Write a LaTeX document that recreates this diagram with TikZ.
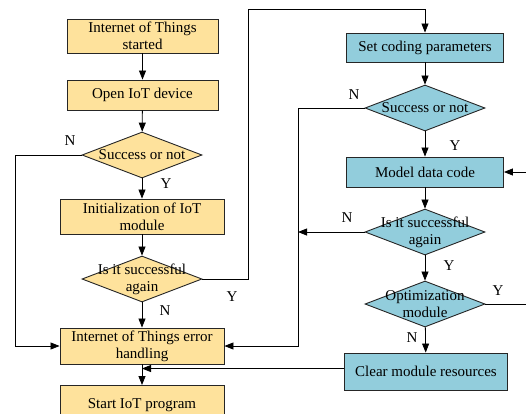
\documentclass[tikz,border=0pt]{standalone}
\usepackage{fontspec}
\setmainfont{Liberation Serif}
\usetikzlibrary{arrows.meta,shapes.geometric,calc}
\definecolor{ylw}{HTML}{FEE29C}
\definecolor{teal1}{HTML}{92CDDC}
\definecolor{edge}{HTML}{262626}
\begin{document}
\begin{tikzpicture}[x=1pt,y=-1pt,
  every node/.style={font=\fontsize{15}{17}\selectfont},
  ybox/.style={draw=edge,line width=0.9pt,fill=ylw,rectangle,inner sep=0pt,align=center},
  tbox/.style={draw=edge,line width=0.9pt,fill=teal1,rectangle,inner sep=0pt,align=center},
  ydia/.style={draw=edge,line width=0.9pt,fill=ylw,diamond,inner sep=0pt,minimum width=120pt,minimum height=46pt},
  tdia/.style={draw=edge,line width=0.9pt,fill=teal1,diamond,inner sep=0pt,minimum width=120pt,minimum height=46pt},
  dtxt/.style={align=center,inner sep=0pt},
  conn/.style={line width=0.8pt,draw=black},
  arr/.style={conn,-{Triangle[length=9pt,width=7pt]}},
  lbl/.style={inner sep=0pt}]
\clip (0,0) rectangle (526,413);
\fill[white] (0,0) rectangle (526,413);
% left column
\node[ybox,minimum width=151pt,minimum height=34pt] (b1) at (142.5,36) {Internet of Things\\started};
\node[ybox,minimum width=151pt,minimum height=30pt] (b2) at (142.5,95) {Open IoT device};
\node[ydia] (d1) at (142,155) {};
\node[dtxt] at (d1) {Success or not};
\node[ybox,minimum width=164pt,minimum height=35pt] (b3) at (142,216.5) {Initialization of IoT\\module};
\node[ydia] (d2) at (142,279) {};
\node[dtxt] at (d2) {Is it successful\\again};
\node[ybox,minimum width=164pt,minimum height=36pt] (b4) at (142,346) {Internet of Things error\\handling};
\node[ybox,minimum width=164pt,minimum height=40pt,anchor=north] (b5) at (142,385) {Start IoT program};
% right column
\node[tbox,minimum width=157pt,minimum height=29pt] (s1) at (425,47.5) {Set coding parameters};
\node[tdia] (d3) at (425,108) {};
\node[dtxt] at (d3) {Success or not};
\node[tbox,minimum width=157pt,minimum height=30pt] (m1) at (425,172) {Model data code};
\node[tdia] (d4) at (425,232) {};
\node[dtxt] at (d4) {Is it successful\\again};
\node[tdia] (d5) at (425,304) {};
\node[dtxt] at (d5) {Optimization\\module};
\node[tbox,minimum width=163pt,minimum height=37pt] (c1) at (426,371.5) {Clear module resources};
% helper coordinates
\coordinate (l1) at (15,155);
\coordinate (r1) at (248,279);
\coordinate (r2) at (248,9);
\coordinate (r3) at (425,9);
\coordinate (v1) at (298,108);
\coordinate (v2) at (298,346);
\coordinate (v3) at (298,232);
\coordinate (e1) at (526,304);
\coordinate (e2) at (526,172);
\coordinate (j1) at (142,368.5);
% connectors
\draw[arr] (b1) -- (b2);
\draw[arr] (b2) -- (d1);
\draw[arr] (d1) -- (b3);
\draw[arr] (d1.west) -- (l1) |- (b4.west);
\draw[arr] (b3) -- (d2);
\draw[arr] (d2) -- (b4);
\draw[arr] (d2.east) -- (r1) -- (r2) -- (r3) -- (s1.north);
\draw[arr] (s1) -- (d3);
\draw[arr] (d3) -- (m1);
\draw[arr] (d3.west) -- (v1) -- (v2) -- (b4.east);
\draw[arr] (m1) -- (d4);
\draw[arr] (d4.west) -- (v3);
\draw[arr] (d4) -- (d5);
\draw[conn] (d5.east) -- (e1);
\draw[arr] (e2) -- (m1.east);
\draw[arr] (d5) -- (c1);
\draw[arr] (c1.west |- j1) -- (j1);
\draw[arr] (b4) -- (b5);
% labels
\node[lbl] at (70,141) {N};
\node[lbl] at (166,184) {Y};
\node[lbl] at (165,311) {N};
\node[lbl] at (232,297) {Y};
\node[lbl] at (354,95) {N};
\node[lbl] at (455,146) {Y};
\node[lbl] at (347,218) {N};
\node[lbl] at (449,266) {Y};
\node[lbl] at (498,291) {Y};
\node[lbl] at (412,338) {N};
\end{tikzpicture}
\end{document}
